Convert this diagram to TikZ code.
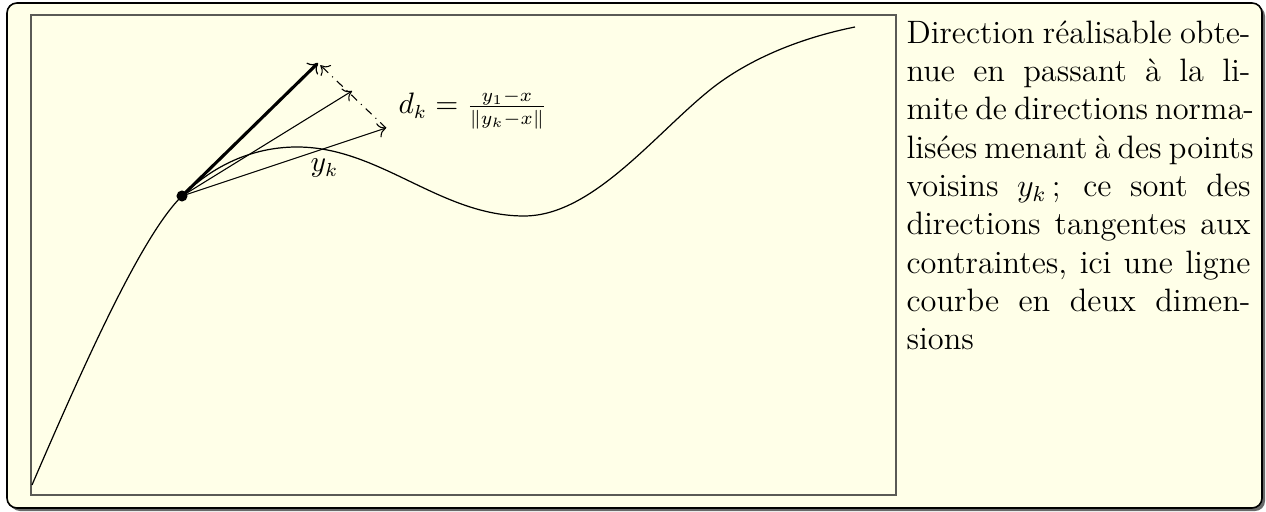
\documentclass[tikz,border=0pt]{standalone}
\usepackage{fontspec}
\usetikzlibrary{arrows.meta}
\definecolor{paper}{RGB}{255,255,232}
\definecolor{framegray}{RGB}{90,90,85}
\definecolor{shadowgray}{RGB}{105,105,105}
\newcommand\myline[1]{\hbox to 127.4pt{#1}}
\begin{document}
\begin{tikzpicture}[x={(0.37037pt,0)}, y={(0,-0.37037pt)},
  tipto/.style={-{To[length=3pt,width=5.5pt]}},
  curveline/.style={line width=0.45pt},
  thinarrow/.style={tipto, line width=0.4pt},
  thickarrow/.style={-{To[length=3.2pt,width=6pt,line width=0.45pt]}, line width=1.15pt},
  lbl/.style={anchor=base west, inner sep=0pt, font=\fontsize{10.5}{12.6}\selectfont}]
\useasboundingbox (0,0) rectangle (1266,512);
\fill[white] (0,0) rectangle (1266,512);
% outer frame with shadow
\fill[shadowgray, rounded corners=3.7pt] (10,6) rectangle (1265,511);
\draw[fill=paper, line width=0.6pt, rounded corners=3.7pt] (7,3) rectangle (1262,508);
% inner frame
\draw[framegray, fill=paper, line width=0.6pt] (31,15) rectangle (896,495);
% named points
\coordinate (S) at (32,485);
\node[circle, fill=black, inner sep=0pt, minimum size=4.1pt] (X) at (182,196) {};
\coordinate (P) at (297,147);
\coordinate (M) at (524,216);
\coordinate (Q) at (705,94);
\coordinate (E) at (855,27);
\coordinate (T1) at (318,63);
\coordinate (T2) at (352,91);
\coordinate (T3) at (386,128);
% constraint curve
\draw[curveline] (S) .. controls (85,362) and (142,235) .. (X.center)
  .. controls (217,162) and (257,147) .. (P)
  .. controls (380,147) and (440,216) .. (M)
  .. controls (590,216) and (650,140) .. (Q)
  .. controls (745,60) and (800,38) .. (E);
% directions
\draw[thickarrow] (X.center) -- (T1);
\draw[thinarrow] (X.center) -- (T2);
\draw[thinarrow] (X.center) -- (T3);
\draw[thinarrow, dashdotted, shorten >=1.2pt] (T3) -- (T1);
% labels
\node[lbl] (dk) at (398,114) {$d_k = \frac{y_1-x}{\|y_k-x\|}$};
\node[lbl] (yk) at (310,172) {$y_k$};
% side text
\node[anchor=north west, inner sep=0pt] (txt) at (906,20) {\fontsize{12}{14.2}\selectfont\vbox{\baselineskip=14.2pt
\myline{Direction réalisable obte-}
\myline{nue en passant à la li-}
\myline{mite de directions norma-}
\myline{lisées menant à des points}
\myline{voisins $y_k$\,; ce sont des}
\myline{directions tangentes aux}
\myline{contraintes, ici une ligne}
\myline{courbe en deux dimen-}
\myline{sions\hfil}}};
\end{tikzpicture}
\end{document}
